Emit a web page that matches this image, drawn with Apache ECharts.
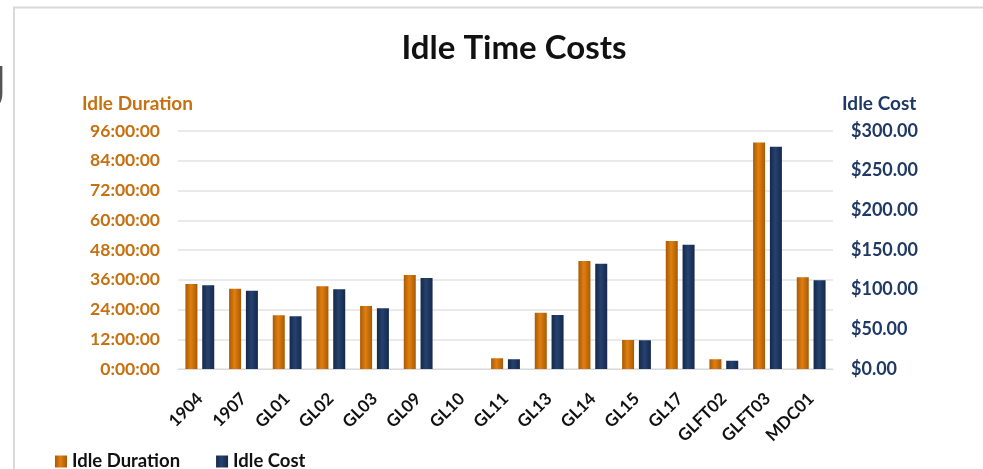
<!DOCTYPE html>
<html>
<head>
<meta charset="utf-8">
<script src="https://cdn.jsdelivr.net/npm/echarts@6/dist/echarts.min.js"></script>
<style>
  html, body { margin: 0; padding: 0; background: #fff; }
  #chart { width: 983px; height: 469px; }
</style>
</head>
<body>
<div id="chart"></div>
<script>
// categories and values
var machines = ['1904', '1907', 'GL01', 'GL02', 'GL03', 'GL09', 'GL10', 'GL11', 'GL13', 'GL14', 'GL15', 'GL17', 'GLFT02', 'GLFT03', 'MDC01'];
// idle duration in hours
var idleHours = [34.3, 32.4, 21.7, 33.4, 25.4, 37.9, 0, 4.3, 22.7, 43.6, 11.7, 51.6, 3.9, 91.4, 37.0];
// idle cost in dollars
var idleCost = [105.5, 98.7, 66.4, 100.4, 76.5, 114.7, 0, 12.2, 68.0, 132.7, 36.1, 156.7, 10.5, 280.2, 111.8];

var orange = '#c6700f';
var navy = '#1f3864';
var font = 'Lato';

var myChart = echarts.init(document.getElementById('chart'));

function barGrad(edge, mid) {
    return new echarts.graphic.LinearGradient(0, 0, 1, 0, [
        { offset: 0, color: edge },
        { offset: 0.45, color: mid },
        { offset: 1, color: edge }
    ]);
}

var option = {
    textStyle: { fontFamily: font },
    title: {
        text: 'Idle Time Costs',
        left: 509,
        textAlign: 'center',
        top: 27,
        textStyle: { fontFamily: font, fontWeight: 'bold', fontSize: 33, color: '#111' }
    },
    graphic: [
        // frame of the chart box
        {
            type: 'polyline',
            shape: { points: [[14, 469], [14, 7.5], [983, 7.5]] },
            style: { stroke: '#d9d9d9', lineWidth: 2, fill: null }
        },
        // bit of page text cut off at the left
        {
            type: 'text',
            left: -19,
            top: 60,
            style: { text: 'J', font: 'bold 60px Lato', fill: '#555' }
        }
    ],
    legend: {
        left: 50,
        top: 447,
        icon: 'rect',
        itemWidth: 12,
        itemHeight: 12,
        itemGap: 36,
        textStyle: { fontFamily: font, fontWeight: 'bold', fontSize: 18.5, color: '#111' },
        data: ['Idle Duration', 'Idle Cost']
    },
    grid: { left: 178, right: 150, top: 131, bottom: 100 },
    xAxis: {
        type: 'category',
        data: machines,
        axisLine: { lineStyle: { color: '#d9d9d9' } },
        axisTick: { show: false },
        axisLabel: {
            rotate: 45,
            margin: 27,
            interval: 0,
            color: '#111',
            fontWeight: 'bold',
            fontSize: 17,
            fontFamily: font
        }
    },
    yAxis: [
        {
            type: 'value',
            min: 0,
            max: 96,
            interval: 12,
            name: 'Idle Duration',
            nameLocation: 'end',
            nameGap: 18,
            nameTextStyle: { color: orange, fontWeight: 'bold', fontSize: 19, fontFamily: font, align: 'right', padding: [0, -15, 0, 0] },
            axisLine: { show: false },
            axisTick: { show: false },
            splitLine: { lineStyle: { color: '#e3e3e3', width: 1.5 } },
            axisLabel: {
                margin: 18,
                color: orange,
                fontWeight: 'bold',
                fontSize: 17.5,
                fontFamily: font,
                formatter: function (v) { return v + ':00:00'; }
            }
        },
        {
            type: 'value',
            min: 0,
            max: 300,
            interval: 50,
            position: 'right',
            name: 'Idle Cost',
            nameLocation: 'end',
            nameGap: 18,
            nameTextStyle: { color: navy, fontWeight: 'bold', fontSize: 19, fontFamily: font, align: 'left', padding: [0, 0, 0, 9] },
            axisLine: { show: false },
            axisTick: { show: false },
            splitLine: { show: false },
            axisLabel: {
                margin: 18,
                color: navy,
                fontWeight: 'bold',
                fontSize: 18,
                fontFamily: font,
                formatter: function (v) { return '$' + v.toFixed(2); }
            }
        }
    ],
    series: [
        {
            name: 'Idle Duration',
            type: 'bar',
            yAxisIndex: 0,
            data: idleHours,
            barWidth: 12,
            barGap: '40%',
            itemStyle: { color: barGrad('#a85a05', '#e07f10') }
        },
        {
            name: 'Idle Cost',
            type: 'bar',
            yAxisIndex: 1,
            data: idleCost,
            barWidth: 12,
            itemStyle: { color: barGrad('#15284a', '#25426f') }
        }
    ]
};

myChart.setOption(option);
</script>
</body>
</html>
